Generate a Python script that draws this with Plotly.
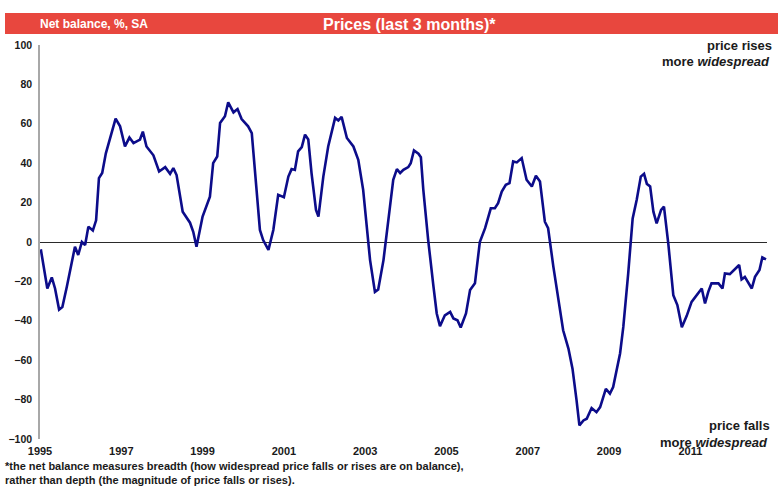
import plotly.graph_objects as go

# Net balance, %, SA  (decimal year, value)
years = [1995.02, 1995.10, 1995.18, 1995.29, 1995.37, 1995.47, 1995.55, 1995.66, 1995.78, 1995.86,
         1995.94, 1996.03, 1996.11, 1996.19, 1996.30, 1996.38, 1996.45, 1996.53, 1996.62, 1996.72,
         1996.86, 1996.97, 1997.09, 1997.20, 1997.30, 1997.46, 1997.53, 1997.62, 1997.79, 1997.93,
         1998.08, 1998.20, 1998.28, 1998.36, 1998.51, 1998.69, 1998.77, 1998.85, 1999.00, 1999.18,
         1999.26, 1999.36, 1999.43, 1999.55, 1999.63, 1999.76, 1999.86, 1999.96, 2000.12, 2000.21,
         2000.29, 2000.41, 2000.49, 2000.62, 2000.74, 2000.86, 2001.00, 2001.11, 2001.19, 2001.27,
         2001.35, 2001.44, 2001.52, 2001.60, 2001.68, 2001.79, 2001.85, 2001.97, 2002.09, 2002.26,
         2002.34, 2002.42, 2002.55, 2002.71, 2002.83, 2002.95, 2003.12, 2003.24, 2003.32, 2003.45,
         2003.61, 2003.69, 2003.78, 2003.86, 2003.94, 2004.06, 2004.12, 2004.20, 2004.31, 2004.37,
         2004.43, 2004.55, 2004.68, 2004.76, 2004.84, 2004.96, 2005.09, 2005.17, 2005.27, 2005.35,
         2005.48, 2005.58, 2005.70, 2005.82, 2005.95, 2006.09, 2006.19, 2006.27, 2006.36, 2006.46,
         2006.55, 2006.64, 2006.73, 2006.85, 2006.97, 2007.10, 2007.20, 2007.30, 2007.42, 2007.50,
         2007.63, 2007.75, 2007.87, 2008.00, 2008.10, 2008.20, 2008.27, 2008.37, 2008.45, 2008.57,
         2008.69, 2008.78, 2008.92, 2009.02, 2009.10, 2009.27, 2009.35, 2009.47, 2009.58, 2009.68,
         2009.78, 2009.86, 2009.93, 2010.01, 2010.09, 2010.17, 2010.28, 2010.35, 2010.46, 2010.58,
         2010.68, 2010.79, 2010.91, 2011.03, 2011.16, 2011.28, 2011.36, 2011.44, 2011.52, 2011.69,
         2011.79, 2011.85, 2011.97, 2012.07, 2012.20, 2012.26, 2012.34, 2012.51, 2012.59, 2012.70,
         2012.77, 2012.86]

balance = [-3.7, -14.0, -23.6, -18.0, -23.6, -34.3, -33.0, -22.7, -10.9, -2.4,
           -6.6, 0.0, -1.5, 7.8, 5.8, 11.0, 32.4, 35.0, 45.0, 52.8,
           62.6, 58.7, 48.5, 53.0, 50.2, 52.0, 56.0, 48.5, 44.0, 35.8,
           38.0, 34.6, 37.5, 34.0, 15.4, 9.8, 5.2, -2.4, 12.9, 23.0,
           40.0, 43.4, 60.4, 63.8, 70.9, 65.8, 67.5, 62.4, 58.7, 55.3,
           35.0, 6.1, 1.0, -4.0, 6.1, 23.9, 22.7, 33.2, 37.0, 36.6,
           46.0, 48.2, 54.5, 52.0, 35.0, 16.3, 12.9, 33.2, 48.5, 63.0,
           61.7, 63.5, 52.8, 48.5, 41.7, 26.5, -9.2, -25.3, -24.1, -9.2,
           18.0, 31.6, 37.0, 35.0, 36.6, 38.0, 40.0, 46.5, 44.8, 43.0,
           26.5, 1.0, -22.7, -36.3, -42.7, -37.2, -35.5, -38.8, -39.7, -43.4,
           -36.3, -24.4, -21.0, 0.0, 7.0, 17.1, 17.1, 19.7, 25.6, 29.0,
           29.9, 40.9, 40.4, 42.6, 31.6, 28.2, 33.6, 30.7, 10.3, 7.0,
           -12.6, -29.5, -44.8, -54.1, -64.3, -80.4, -93.1, -90.6, -89.7, -84.3,
           -86.4, -83.8, -74.5, -77.0, -73.6, -56.6, -43.1, -16.0, 12.0, 21.4,
           33.2, 34.6, 29.5, 28.2, 15.4, 9.5, 16.3, 18.0, -1.5, -27.0,
           -32.0, -43.3, -37.5, -30.4, -27.0, -23.6, -31.2, -25.3, -21.0, -21.0,
           -23.6, -16.0, -16.3, -14.2, -11.7, -19.0, -17.7, -23.6, -17.7, -14.2,
           -7.8, -8.8]

x_ticks = [1995, 1997, 1999, 2001, 2003, 2005, 2007, 2009, 2011]
y_ticks = [-100, -80, -60, -40, -20, 0, 20, 40, 60, 80, 100]

W, H = 778, 487
L, R, T, B = 40, 11, 45, 48
PW, PH = W - L - R, H - T - B

def px(x):
    return (x - L) / PW

def py(y):
    return (H - B - y) / PH

fig = go.Figure()
fig.add_trace(go.Scatter(x=years, y=balance, mode="lines",
                         line=dict(color="#0c0c8a", width=2.6), hoverinfo="skip"))

font_main = "Liberation Sans, Arial, sans-serif"

fig.update_layout(
    width=W, height=H,
    margin=dict(l=L, r=R, t=T, b=B, autoexpand=False),
    paper_bgcolor="white", plot_bgcolor="white",
    showlegend=False,
    font=dict(family=font_main, color="#1a1a1a"),
    xaxis=dict(range=[1995, 2012.885], tickvals=x_ticks, ticktext=[str(v) for v in x_ticks],
               showgrid=False, zeroline=False, showline=False, ticks="",
               tickfont=dict(size=11, weight="bold", color="#1a1a1a", family=font_main),
               ticklabelstandoff=4),
    yaxis=dict(range=[-100, 100], tickvals=y_ticks, showgrid=False,
               zeroline=True, zerolinecolor="#2a2a2a", zerolinewidth=1,
               showline=True, linecolor="#a8a8a8", linewidth=1.5, ticks="",
               tickfont=dict(size=10.5, weight="bold", color="#1a1a1a", family=font_main),
               ticklabelstandoff=4),
)

# red title band
fig.add_shape(type="rect", xref="paper", yref="paper",
              x0=px(5), x1=px(778), y0=py(34), y1=py(13),
              fillcolor="#e8473e", line=dict(width=0), layer="above")

ann = []
ann.append(dict(text="Net balance, %, SA", x=px(39), y=py(24), xanchor="left", yanchor="middle",
                font=dict(size=12, color="white", weight="bold")))
ann.append(dict(text="Prices (last 3 months)*", x=px(410), y=py(24), xanchor="center", yanchor="middle",
                font=dict(size=16, color="white", weight="bold")))
ann.append(dict(text="<b>price rises</b>", x=px(773), y=py(45), xanchor="right", yanchor="middle",
                font=dict(size=13, color="#1a1a1a")))
ann.append(dict(text="<b>more <i>widespread</i></b>", x=px(771), y=py(62), xanchor="right", yanchor="middle",
                font=dict(size=13, color="#1a1a1a")))
ann.append(dict(text="<b>price falls</b>", x=px(771), y=py(425), xanchor="right", yanchor="middle",
                font=dict(size=13, color="#1a1a1a")))
ann.append(dict(text="<b>more <i>widespread</i></b>", x=px(769), y=py(442), xanchor="right", yanchor="middle",
                font=dict(size=13, color="#1a1a1a")))
ann.append(dict(text="<b>*the net balance measures breadth (how widespread price falls or rises are on balance),</b>",
                x=px(4), y=py(466), xanchor="left", yanchor="middle",
                font=dict(size=11, color="#1a1a1a")))
ann.append(dict(text="<b>rather than depth (the magnitude of price falls or rises).</b>",
                x=px(4), y=py(480), xanchor="left", yanchor="middle",
                font=dict(size=11, color="#1a1a1a")))
for a in ann:
    a.update(xref="paper", yref="paper", showarrow=False, borderpad=0)
fig.update_layout(annotations=ann)

fig.write_html("out.html", config={"displayModeBar": False},
               post_script="document.body.style.margin='0';")
